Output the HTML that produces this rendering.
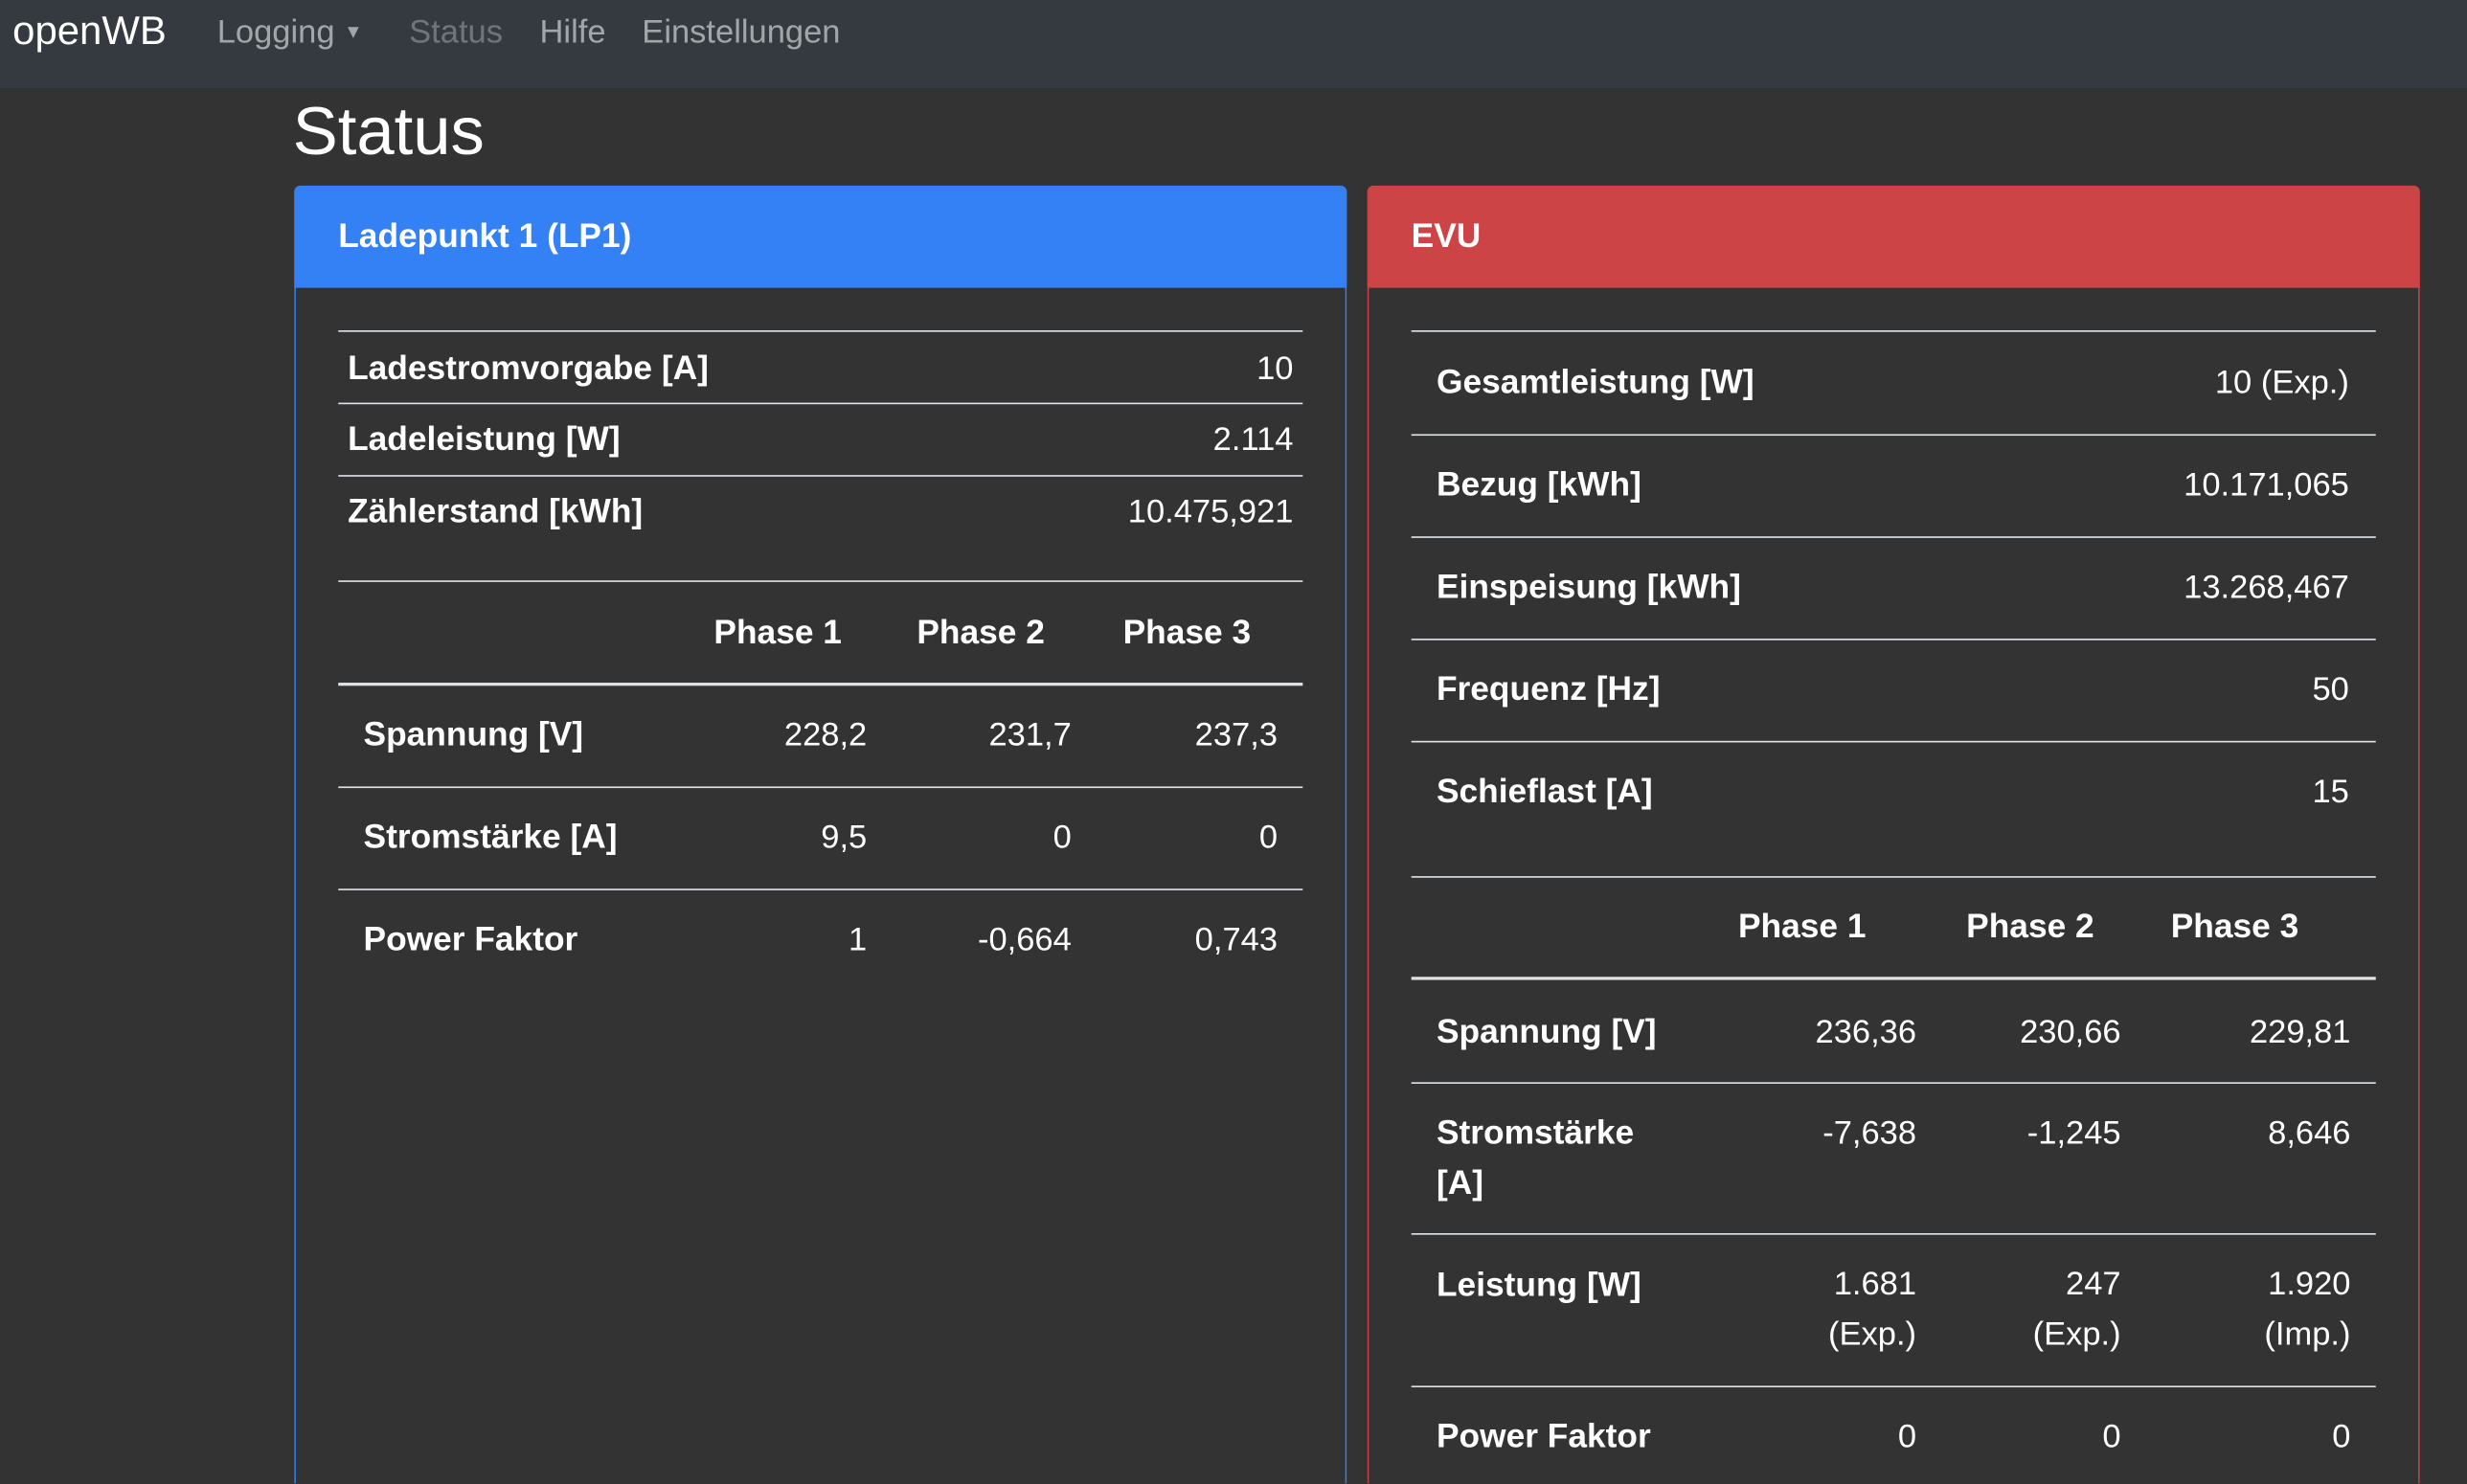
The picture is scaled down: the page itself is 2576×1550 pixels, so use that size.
<!DOCTYPE html>
<html><head><meta charset="utf-8"><style>
html,body{margin:0;padding:0;background:#333;overflow:hidden;width:2576px;height:1550px}
#w{position:absolute;left:0;top:0;width:1568px;height:943px;transform:scale(1.6429);transform-origin:0 0;background:#333;font-family:"Liberation Sans",sans-serif;color:#fff;overflow:hidden}
.a{position:absolute;white-space:nowrap;line-height:1}
.b{font-weight:bold;font-size:21.5px!important}
.r{text-align:right}
.l{position:absolute;height:1px;background:#dee2e6}
.t{position:absolute;height:2px;background:#dee2e6}
</style></head><body><div id="w">
<div class="a" style="left:0;top:0;width:1568px;height:56px;background:#343a40"></div>
<div class="a" style="left:8px;top:8px;font-size:25.5px">openWB</div>
<div class="a" style="left:138px;top:10px;font-size:21px;color:rgba(255,255,255,.55)">Logging <span style="font-size:12px;position:relative;top:-3px">▼</span></div>
<div class="a" style="left:260px;top:10px;font-size:21px;color:rgba(255,255,255,.3)">Status</div>
<div class="a" style="left:343px;top:10px;font-size:21px;color:rgba(255,255,255,.55)">Hilfe</div>
<div class="a" style="left:408px;top:10px;font-size:21px;color:rgba(255,255,255,.55)">Einstellungen</div>
<div class="a" style="left:186px;top:63px;font-size:43px;font-weight:500">Status</div>

<div class="a" style="left:187px;top:118px;width:667px;height:825px;border:1px solid #3480f5;border-bottom:none;border-radius:4px 4px 0 0;box-sizing:content-box"></div>
<div class="a" style="left:187px;top:118px;width:669px;height:65px;background:#3480f5;border-radius:4px 4px 0 0"></div>
<div class="a b" style="left:215px;top:140px">Ladepunkt 1 (LP1)</div>

<div class="a" style="left:869px;top:118px;width:667px;height:825px;border:1px solid #cc4446;border-bottom:none;border-radius:4px 4px 0 0"></div>
<div class="a" style="left:869px;top:118px;width:669px;height:65px;background:#cc4446;border-radius:4px 4px 0 0"></div>
<div class="a b" style="left:897px;top:140px">EVU</div>

<div class="l" style="left:215px;top:210px;width:613px"></div>
<div class="l" style="left:215px;top:256px;width:613px"></div>
<div class="l" style="left:215px;top:302px;width:613px"></div>
<div class="a b" style="left:221px;top:224px">Ladestromvorgabe [A]</div>
<div class="a r" style="right:746px;top:224px;font-size:21px">10</div>
<div class="a b" style="left:221px;top:269px">Ladeleistung [W]</div>
<div class="a r" style="right:746px;top:269px;font-size:21px">2.114</div>
<div class="a b" style="left:221px;top:315px">Zählerstand [kWh]</div>
<div class="a r" style="right:746px;top:315px;font-size:21px">10.475,921</div>

<div class="l" style="left:215px;top:369px;width:613px"></div>
<div class="a b r" style="right:1033px;top:392px">Phase 1</div>
<div class="a b r" style="right:904px;top:392px">Phase 2</div>
<div class="a b r" style="right:773px;top:392px">Phase 3</div>
<div class="t" style="left:215px;top:434px;width:613px"></div>
<div class="l" style="left:215px;top:500px;width:613px"></div>
<div class="l" style="left:215px;top:565px;width:613px"></div>
<div class="a b" style="left:231px;top:457px">Spannung [V]</div>
<div class="a r" style="right:1017px;top:457px;font-size:21px">228,2</div>
<div class="a r" style="right:887px;top:457px;font-size:21px">231,7</div>
<div class="a r" style="right:756px;top:457px;font-size:21px">237,3</div>
<div class="a b" style="left:231px;top:522px">Stromstärke [A]</div>
<div class="a r" style="right:1017px;top:522px;font-size:21px">9,5</div>
<div class="a r" style="right:887px;top:522px;font-size:21px">0</div>
<div class="a r" style="right:756px;top:522px;font-size:21px">0</div>
<div class="a b" style="left:231px;top:587px">Power Faktor</div>
<div class="a r" style="right:1017px;top:587px;font-size:21px">1</div>
<div class="a r" style="right:887px;top:587px;font-size:21px">-0,664</div>
<div class="a r" style="right:756px;top:587px;font-size:21px">0,743</div>

<div class="l" style="left:897px;top:210px;width:613px"></div>
<div class="l" style="left:897px;top:276px;width:613px"></div>
<div class="l" style="left:897px;top:341px;width:613px"></div>
<div class="l" style="left:897px;top:406px;width:613px"></div>
<div class="l" style="left:897px;top:471px;width:613px"></div>
<div class="a b" style="left:913px;top:233px">Gesamtleistung [W]</div>
<div class="a r" style="right:75px;top:233px;font-size:21px">10 (Exp.)</div>
<div class="a b" style="left:913px;top:298px">Bezug [kWh]</div>
<div class="a r" style="right:75px;top:298px;font-size:21px">10.171,065</div>
<div class="a b" style="left:913px;top:363px">Einspeisung [kWh]</div>
<div class="a r" style="right:75px;top:363px;font-size:21px">13.268,467</div>
<div class="a b" style="left:913px;top:428px">Frequenz [Hz]</div>
<div class="a r" style="right:75px;top:428px;font-size:21px">50</div>
<div class="a b" style="left:913px;top:493px">Schieflast [A]</div>
<div class="a r" style="right:75px;top:493px;font-size:21px">15</div>

<div class="l" style="left:897px;top:557px;width:613px"></div>
<div class="a b r" style="right:382px;top:579px">Phase 1</div>
<div class="a b r" style="right:237px;top:579px">Phase 2</div>
<div class="a b r" style="right:107px;top:579px">Phase 3</div>
<div class="t" style="left:897px;top:621px;width:613px"></div>
<div class="l" style="left:897px;top:688px;width:613px"></div>
<div class="l" style="left:897px;top:784px;width:613px"></div>
<div class="l" style="left:897px;top:881px;width:613px"></div>
<div class="a b" style="left:913px;top:646px">Spannung [V]</div>
<div class="a r" style="right:350px;top:646px;font-size:21px">236,36</div>
<div class="a r" style="right:220px;top:646px;font-size:21px">230,66</div>
<div class="a r" style="right:74px;top:646px;font-size:21px">229,81</div>
<div class="a b" style="left:913px;line-height:32px;top:704px">Stromstärke<br>[A]</div>
<div class="a r" style="right:350px;top:710px;font-size:21px">-7,638</div>
<div class="a r" style="right:220px;top:710px;font-size:21px">-1,245</div>
<div class="a r" style="right:74px;top:710px;font-size:21px">8,646</div>
<div class="a b" style="left:913px;top:807px">Leistung [W]</div>
<div class="a r" style="right:350px;top:801px;font-size:21px;line-height:32px">1.681<br>(Exp.)</div>
<div class="a r" style="right:220px;top:801px;font-size:21px;line-height:32px">247<br>(Exp.)</div>
<div class="a r" style="right:74px;top:801px;font-size:21px;line-height:32px">1.920<br>(Imp.)</div>
<div class="a b" style="left:913px;top:903px">Power Faktor</div>
<div class="a r" style="right:350px;top:903px;font-size:21px">0</div>
<div class="a r" style="right:220px;top:903px;font-size:21px">0</div>
<div class="a r" style="right:74px;top:903px;font-size:21px">0</div>
</div></body></html>
